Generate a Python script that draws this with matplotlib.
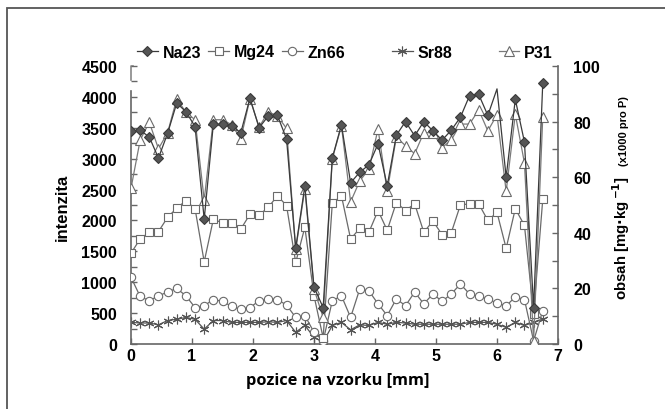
import matplotlib
matplotlib.use("Agg")
import matplotlib.pyplot as plt
from matplotlib.patches import Rectangle
from matplotlib.ticker import MultipleLocator

# --- Data ---
position_mm = [0.0, 0.15, 0.3, 0.45, 0.6, 0.75, 0.9, 1.05, 1.2, 1.35,
               1.5, 1.65, 1.8, 1.95, 2.1, 2.25, 2.4, 2.55, 2.7, 2.85,
               3.0, 3.15, 3.3, 3.45, 3.6, 3.75, 3.9, 4.05, 4.2, 4.35,
               4.5, 4.65, 4.8, 4.95, 5.1, 5.25, 5.4, 5.55, 5.7, 5.85,
               6.0, 6.15, 6.3, 6.45, 6.6, 6.75]

na23 = [3440, 3460, 3350, 3010, 3410, 3900, 3760, 3520, 2020, 3560,
        3560, 3530, 3420, 3980, 3500, 3690, 3700, 3320, 1550, 2560,
        920, 590, 3010, 3550, 2610, 2780, 2900, 3240, 2560, 3380,
        3600, 3370, 3600, 3450, 3300, 3460, 3670, 4020, 4040, 3700,
        4130, 2700, 3960, 3270, 590, 4220]

mg24 = [1470, 1700, 1810, 1820, 2050, 2200, 2320, 2190, 1330, 2020,
        1960, 1960, 1860, 2100, 2090, 2210, 2400, 2240, 1320, 1890,
        780, 100, 2280, 2400, 1700, 1870, 1810, 2160, 1840, 2290,
        2160, 2270, 1810, 1990, 1770, 1800, 2250, 2270, 2270, 2000,
        2130, 1550, 2190, 1920, 490, 2340]

zn66 = [1080, 770, 700, 780, 840, 900, 780, 590, 620, 720,
        690, 610, 560, 590, 700, 730, 720, 630, 430, 460,
        190, 50, 700, 780, 430, 890, 860, 650, 460, 730,
        620, 840, 650, 810, 690, 810, 970, 810, 770, 730,
        660, 620, 760, 720, 50, 540]

sr88 = [350, 340, 340, 310, 380, 400, 430, 400, 240, 380,
        380, 350, 350, 350, 350, 360, 350, 380, 190, 300,
        110, 30, 300, 350, 230, 310, 300, 350, 320, 350,
        340, 320, 320, 320, 320, 320, 320, 350, 350, 350,
        320, 270, 350, 300, 350, 400]

p31 = [2520, 3300, 3590, 3160, 3420, 3970, 3750, 3630, 2330, 3630,
       3630, 3550, 3320, 3970, 3510, 3760, 3690, 3490, 1530, 2510,
       890, 430, 3000, 3530, 2300, 2640, 2830, 3480, 2470, 3350,
       3210, 3080, 3420, 3420, 3180, 3300, 3560, 3560, 3790, 3450,
       3710, 2470, 3720, 2930, 50, 3670]

# the Na23 spike at 6.0 mm has no visible marker in the original
na_marked = [i for i in range(len(na23)) if i != 40]

plt.rcParams['font.family'] = ['Liberation Sans', 'DejaVu Sans']
plt.rcParams['font.weight'] = 'bold'

W, H = 665, 410
fig = plt.figure(figsize=(W / 100, H / 100), dpi=100)
ax = fig.add_axes([131 / W, 1 - 345 / H, (558 - 131) / W, (345 - 67) / H])

# outer frame of the original figure
fig.patches.append(Rectangle((7 / W, -0.05), 1.2, 1.05 - 9 / H, transform=fig.transFigure,
                             fill=False, edgecolor='#555555', linewidth=1.3))

common = dict(linewidth=0.9, markersize=6, markeredgewidth=0.8)
l_sr, = ax.plot(position_mm, sr88, color='#555555', marker=(6, 2, 0), zorder=2,
                linewidth=0.9, markersize=7, markeredgewidth=0.8)
l_zn, = ax.plot(position_mm, zn66, color='#6a6a6a', marker='o', markerfacecolor='white',
                markeredgecolor='#6a6a6a', zorder=3, **common)
l_mg, = ax.plot(position_mm, mg24, color='#6a6a6a', marker='s', markerfacecolor='white',
                markeredgecolor='#6a6a6a', zorder=4, **common)
l_p, = ax.plot(position_mm, p31, color='#7a7a7a', marker='^', markerfacecolor='white',
               markeredgecolor='#6a6a6a', zorder=5, linewidth=0.9, markersize=6.5,
               markeredgewidth=0.8)
l_na, = ax.plot(position_mm, na23, color='#3a3a3a', marker='D', markerfacecolor='#555555',
                markeredgecolor='#3a3a3a', zorder=6, linewidth=0.9, markersize=5.5,
                markeredgewidth=0.8, markevery=na_marked)

ax.set_xlim(0, 7)
ax.set_ylim(0, 4500)
ax.xaxis.set_major_locator(MultipleLocator(1))
ax.yaxis.set_major_locator(MultipleLocator(500))
ax.yaxis.set_minor_locator(MultipleLocator(250))
ax.tick_params(axis='both', direction='in', length=4, width=1, color='#666666',
               labelsize=11.5)
ax.tick_params(axis='y', which='minor', direction='in', length=4, width=1, color='#666666')
ax.tick_params(axis='y', pad=10)
ax.tick_params(axis='x', pad=3)
for s in ['top', 'right']:
    ax.spines[s].set_visible(False)
for s in ['left', 'bottom']:
    ax.spines[s].set_color('#666666')
    ax.spines[s].set_linewidth(1.2)
ax.spines['left'].set_bounds(0, 4100)
# small bracket above the left spine
ax.plot([0, 0, 0.03], [4270, 4500, 4500], color='#888888', linewidth=1.2,
        clip_on=False, zorder=1)

ax2 = ax.twinx()
ax2.set_ylim(0, 100)
ax2.yaxis.set_major_locator(MultipleLocator(20))
ax2.yaxis.set_minor_locator(MultipleLocator(10))
ax2.tick_params(axis='y', which='both', direction='in', length=4, width=1,
                color='#666666', labelsize=11.5, pad=11)
for s in ['top', 'left', 'bottom']:
    ax2.spines[s].set_visible(False)
ax2.spines['right'].set_color('#666666')
ax2.spines['right'].set_linewidth(1.2)

fig.text(62 / W, 1 - 207 / H, 'intenzita', rotation=90, ha='center', va='center',
         fontsize=12, fontweight='bold')
fig.text(338 / W, 1 - 381 / H, 'pozice na vzorku [mm]', ha='center', va='center',
         fontsize=11.8, fontweight='bold', family=['Open Sans', 'DejaVu Sans'])
fig.text(621 / W, 1 - 300 / H, r'obsah [mg$\cdot$kg$^{\,\mathbf{-1}}$]', rotation=90,
         ha='center', va='bottom', fontsize=10.8, fontweight='bold')
fig.text(624 / W, 1 - 166 / H, '(x1000 pro P)', rotation=90, ha='center', va='bottom',
         fontsize=8, fontweight='bold')

leg_kw = dict(frameon=False, loc='center left', fontsize=11.5, handlelength=1.3,
              handletextpad=0.3, columnspacing=0.45, borderaxespad=0, borderpad=0)
leg1 = fig.legend([l_na, l_mg, l_zn], ['Na23', 'Mg24', 'Zn66'], ncol=3,
                  bbox_to_anchor=(137 / W, 1 - 53 / H), **leg_kw)
leg2 = fig.legend([l_sr, l_p], ['Sr88', 'P31'], ncol=2,
                  bbox_to_anchor=(392 / W, 1 - 53 / H), **dict(leg_kw, columnspacing=2.9))

fig.savefig('out.png', dpi=100)
